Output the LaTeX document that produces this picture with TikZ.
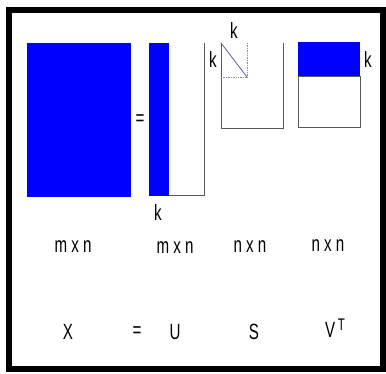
\documentclass[tikz,border=0pt]{standalone}
\usepackage{fontspec}
\setmainfont{Liberation Sans}
\begin{document}
\begin{tikzpicture}[x=1pt,y=-1pt,
  lbl/.style={inner sep=0pt,font=\fontsize{21}{21}\selectfont,xscale=0.72,yscale=1.05},
  edge/.style={draw=black!65,line width=1pt},
  blk/.style={fill=blue}]
\useasboundingbox (0,0) rectangle (386,374);
% frame
\draw[line width=6.5pt] (9,10) rectangle (383.5,369);
% X
\fill[blk] (27,43) rectangle (131,197);
\node[lbl] (eq1) at (140,120) {=};
% U
\fill[blk] (149,43) rectangle (169,196);
\draw[edge] (204,43) -- (204,196) -- (169,196);
\node[lbl] (ku) at (158,213) {k};
% S
\coordinate (s1) at (221,43);
\coordinate (s2) at (247,77);
\draw[edge] (221,43) -- (221,129) -- (283,129) -- (283,43);
\draw[blue!55!white!80!black,line width=0.8pt] (s1) -- (s2);
\draw[black!45,densely dotted,line width=0.7pt] (247,43) -- (s2) -- (221,77);
\node[lbl] (kst) at (234,31) {k};
\node[lbl] (ksl) at (213,60) {k};
% VT
\fill[blk] (298,42) rectangle (360,76);
\draw[edge] (298,76) -- (298,128) -- (360,128) -- (360,76);
\draw[black!65,line width=0.8pt] (298,76) -- (360,76);
\node[lbl] (kv) at (368,60) {k};
% dims
\node[lbl] (d1) at (73,247) {m x n};
\node[lbl] (d2) at (175,248) {m x n};
\node[lbl] (d3) at (250,247) {n x n};
\node[lbl] (d4) at (328,246) {n x n};
% names
\node[lbl] (nx) at (68,332) {X};
\node[lbl] (neq) at (137,332) {=};
\node[lbl] (nu) at (175,332) {U};
\node[lbl] (ns) at (254,332) {S};
\node[lbl] (nv) at (335,328) {V\,\raisebox{7pt}{\fontsize{16}{16}\selectfont T}};
\end{tikzpicture}
\end{document}
